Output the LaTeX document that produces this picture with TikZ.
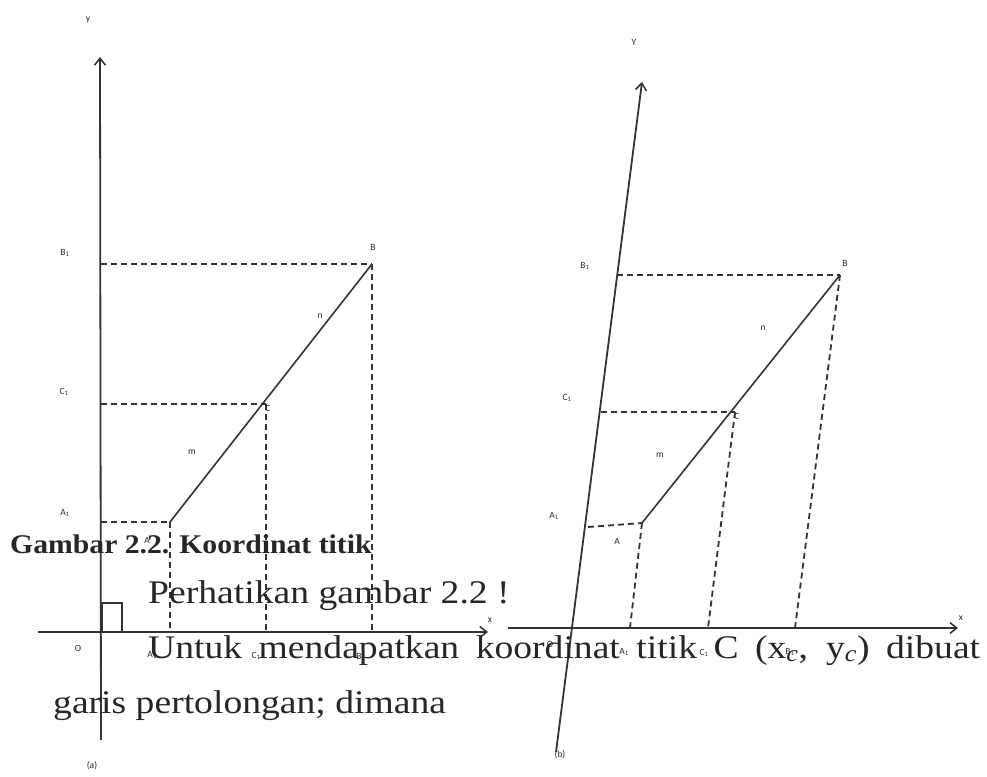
\documentclass[tikz,border=0pt]{standalone}
\usepackage{fontspec}
\usetikzlibrary{arrows.meta}
\newfontfamily\bodyfont{Liberation Serif}[FakeStretch=1.14]
\newfontfamily\capfont{Liberation Serif}[FakeStretch=1.10]
\newfontfamily\lblfont{Carlito}
\definecolor{ink}{HTML}{333333}
\tikzset{
  axis/.style={draw=ink, line width=1.8pt, -{Straight Barb[length=7pt,width=11pt,line width=1.5pt]}},
  guide/.style={draw=ink, line width=1.8pt, dash pattern=on 6pt off 4pt},
  seg/.style={draw=ink, line width=1.6pt},
  lbl/.style={font=\lblfont\fontsize{9.5}{9.5}\selectfont, text=ink!80!black, inner sep=0pt},
  txt/.style={font=\bodyfont\fontsize{33}{33}\selectfont, text=black!85, inner sep=0pt, anchor=base west},
  captxt/.style={font=\capfont\bfseries\fontsize{27}{27}\selectfont, text=black!85, inner sep=0pt, anchor=base west}
}
\begin{document}
\begin{tikzpicture}[x=1pt,y=-1pt]
\useasboundingbox (0,0) rectangle (987,776);
% ---------- panel (a) ----------
\coordinate (aYb) at (101,740);
\coordinate (aYt) at (100,57);
\coordinate (aXl) at (38,632);
\coordinate (aXr) at (488,632);
\coordinate (aA) at (170,522);
\coordinate (aC) at (266,404);
\coordinate (aB) at (372,264);
\coordinate (aA1) at (101,522);
\coordinate (aC1) at (101,404);
\coordinate (aB1) at (101,264);
\coordinate (aAx) at (170,632);
\coordinate (aCx) at (266,632);
\coordinate (aBx) at (372,632);
\draw[axis] (aYb) -- (aYt);
\draw[axis] (aXl) -- (aXr);
\draw[seg] (102,632) -- (102,603) -- (122,603) -- (122,632);
\draw[guide] (aB1) -- (aB);
\draw[guide] (aC1) -- (aC);
\draw[guide] (aA1) -- (aA);
\draw[guide] (aB) -- (aBx);
\draw[guide] (aC) -- (aCx);
\draw[guide] (aA) -- (aAx);
\draw[seg] (aA) -- (aB);
\node[lbl] (ay) at (88,20) {y};
\node[lbl] (ax) at (490,620) {x};
\node[lbl] (aO) at (78,648) {O};
\node[lbl] (aBl) at (373,247) {B};
\node[lbl] (aCl) at (268,408) {C};
\node[lbl] (aAl) at (147,540) {A};
\node[lbl] (aB1l) at (65,253) {B\textsubscript{1}};
\node[lbl] (aC1l) at (64,392) {C\textsubscript{1}};
\node[lbl] (aA1l) at (65,513) {A\textsubscript{1}};
\node[lbl] (aA2l) at (152,655) {A\textsubscript{1}};
\node[lbl] (aC2l) at (256,656) {C\textsubscript{1}};
\node[lbl] (aB2l) at (361,657) {B\textsubscript{1}};
\node[lbl] (am) at (192,452) {m};
\node[lbl] (an) at (320,316) {n};
\node[lbl] (acap) at (92,766) {(a)};
% ---------- panel (b) ----------
\coordinate (bYb) at (556,752);
\coordinate (bYt) at (642,82);
\coordinate (bXl) at (508,628);
\coordinate (bXr) at (958,628);
\coordinate (bA) at (642,523);
\coordinate (bC) at (735,412);
\coordinate (bB) at (840,275);
\coordinate (bA1) at (588,527);
\coordinate (bC1) at (601,412);
\coordinate (bB1) at (617,275);
\coordinate (bAx) at (630,628);
\coordinate (bCx) at (708,628);
\coordinate (bBx) at (795,628);
\draw[axis] (bYb) -- (bYt);
\draw[axis] (bXl) -- (bXr);
\draw[guide] (bB1) -- (bB);
\draw[guide] (bC1) -- (bC);
\draw[guide] (bA1) -- (bA);
\draw[guide] (bB) -- (bBx);
\draw[guide] (bC) -- (bCx);
\draw[guide] (bA) -- (bAx);
\draw[seg] (bA) -- (bB);
\node[lbl] (by) at (634,42) {Y};
\node[lbl] (bx) at (961,618) {x};
\node[lbl] (bO) at (550,644) {O};
\node[lbl] (bBl) at (845,263) {B};
\node[lbl] (bCl) at (737,416) {C};
\node[lbl] (bAl) at (617,541) {A};
\node[lbl] (bB1l) at (585,266) {B\textsubscript{1}};
\node[lbl] (bC1l) at (567,398) {C\textsubscript{1}};
\node[lbl] (bA1l) at (554,516) {A\textsubscript{1}};
\node[lbl] (bA2l) at (624,652) {A\textsubscript{1}};
\node[lbl] (bC2l) at (704,653) {C\textsubscript{1}};
\node[lbl] (bB2l) at (790,652) {B\textsubscript{1}};
\node[lbl] (bm) at (660,455) {m};
\node[lbl] (bn) at (763,328) {n};
\node[lbl] (bcap) at (560,755) {(b)};
% ---------- text overlay ----------
\node[captxt] (t0) at (10,553) {Gambar 2.2. Koordinat titik};
\node[txt] (t1) at (148,603) {Perhatikan gambar 2.2 !};
\node[txt] (t2) at (148,658) {\makebox[832pt][s]{Untuk mendapatkan koordinat titik C (x\textsubscript{\itshape c}, y\textsubscript{\itshape c}) dibuat}};
\node[txt] (t3) at (53,713) {garis pertolongan; dimana};
\end{tikzpicture}
\end{document}
